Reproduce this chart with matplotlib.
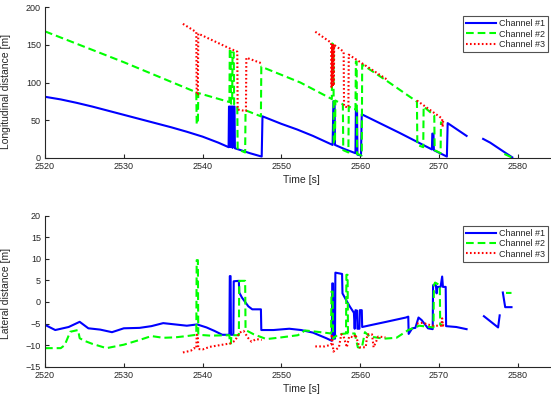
import numpy as np
import matplotlib
matplotlib.use("Agg")
import matplotlib.pyplot as plt

nan = np.nan

# ---- Longitudinal distance [m] per radar channel ----
ch1_lon_t = [2520, 2522, 2524, 2526, 2528, 2530, 2532, 2534, 2536, 2538, 2540, 2542, 2543.3,
             2543.35, 2543.45, 2543.5, 2543.6, 2543.75, 2543.8, 2543.9, 2544.05, 2544.1,
             2545, 2546, 2547, 2547.5, 2547.6, 2550, 2552, 2554, 2556.5,
             2556.6, 2556.75, 2556.8, 2558, 2559.4, 2559.45, 2559.6, 2559.65, 2560.1, 2560.2,
             2565, 2569.1, 2569.15, 2569.3, 2569.35, 2571, 2571.1, 2573.5, nan,
             2575.6, 2576.5, 2577.5, 2578.5, 2579.3]
ch1_lon_y = [81, 77.5, 73, 68, 62.5, 57, 51.5, 46, 40.5, 34.5, 28, 20, 14,
             68, 68, 14, 68, 68, 13, 68, 68, 12.5,
             9.5, 6, 3, 1.5, 55, 45, 37.5, 29, 17,
             75, 75, 17, 11.5, 6, 63, 63, 4, 3, 57.7,
             33, 11, 32, 32, 10, 1.5, 46, 29, nan,
             25, 20, 13, 6, 0.5]

ch2_lon_t = [2520, 2530, 2539.2, 2539.25, 2539.4, 2539.45, 2543.4, 2543.45, 2543.55, 2543.6,
             2543.75, 2543.8, 2543.95, 2544.0, 2544.4, 2544.45, 2545.4, 2545.45, 2547.4,
             2547.45, 2552.4, 2556.4, 2556.45, 2556.6, 2556.65, 2556.8, 2556.85, 2557.8,
             2557.85, 2558.5, 2558.55, 2559.4, 2559.45, 2559.55, 2559.6, 2560.2, 2560.25,
             2563.4, 2567.2, 2567.25, 2568.0, 2568.05, 2569.4, 2569.45, 2570.2, 2570.25,
             2570.4, nan, 2578.3, 2579.3]
ch2_lon_y = [168, 127, 87, 45, 45, 86, 74, 145, 145, 72,
             72, 140, 140, 71, 70, 11, 7, 63, 55,
             121, 100, 78, 152, 150, 20, 19, 76, 71,
             10, 7, 68, 64, 128, 128, 5, 3, 124,
             102, 74.5, 17, 14, 68, 56, 10, 6, 47,
             46, nan, 5, 0]

ch3_lon_t = [2537.5, 2539.2, 2539.25, 2539.4, 2539.45, 2543.5, 2544.4, 2544.45, 2545.5, 2545.55,
             2547.5, nan, 2554.3, 2556.3, 2556.35, 2556.45, 2556.5, 2556.6, 2556.65, 2556.7,
             2557.9, 2557.95, 2558.5, 2558.55, 2563.4, nan, 2567.2, 2570.4, 2570.45, 2570.55]
ch3_lon_y = [178, 167, 84, 84, 165, 145, 141, 64, 62, 133,
             125.5, nan, 167.5, 153, 94, 151, 94, 150, 96, 150,
             141, 68, 67, 137, 104, nan, 76, 52, 41, 51]

# ---- Lateral distance [m] per radar channel ----
ch1_lat_t = [2520, 2521.3, 2523, 2524.4, 2525.5, 2527, 2528.5, 2530, 2532, 2533.5, 2535,
             2536.5, 2538, 2539.3, 2540.5, 2541.5, 2542.5, 2543.4,
             2543.45, 2543.55, 2543.6, 2543.9, 2543.95, 2544.6, 2544.65, 2545.0, 2545.8,
             2546.3, 2547.4, 2547.45, 2549, 2551, 2552.5, 2554, 2555.7, 2556.4,
             2556.45, 2556.55, 2556.6, 2556.8, 2556.85, 2557.7, 2557.75, 2558.2, 2558.7,
             2559.2, 2559.3, 2559.4, 2559.6, 2559.65, 2559.9, 2559.95, 2560.2, 2560.25,
             2561.5, 2563.3, 2565.8, 2566.1, 2566.15, 2566.6, 2567.0, 2567.4, 2567.8,
             2568.6, 2569.2, 2569.25, 2569.6, 2569.7, 2569.8, 2570.2, 2570.4, 2570.5,
             2570.85, 2570.9, 2572.2, 2573.5, nan,
             2575.7, 2577.5, 2577.7, nan, 2578.1, 2578.4, 2579.2]
ch1_lat_y = [-5.3, -6.5, -5.8, -4.6, -6.1, -6.4, -7.0, -6.1, -6.0, -5.6, -4.9,
             -5.2, -5.5, -5.2, -5.9, -6.7, -7.6, -7.6,
             6.0, 6.0, -7.6, -7.6, 4.8, 4.9, 2.2, 1.0, -1.0,
             -1.7, -1.7, -6.5, -6.5, -6.2, -6.5, -7.1, -8.4, -9.0,
             4.3, 4.3, -8.5, -8.5, 6.8, 6.5, 2.0, 0.5, -1.1,
             -2.5, -6.2, -1.9, -2.0, -6.2, -6.2, -1.9, -1.9, -5.8,
             -5.3, -4.6, -3.6, -3.4, -7.4, -6.1, -6.0, -3.6, -4.2,
             -6.1, -6.3, 3.9, 3.9, 2.0, 3.5, 3.5, 5.9, 3.5,
             3.5, -5.6, -5.8, -6.3, nan,
             -3.3, -5.9, -3.1, nan, 2.2, -1.2, -1.2]

ch2_lat_t = [2520, 2522, 2522.5, 2523.2, 2524.2, 2524.4, 2525, 2526, 2527.8, 2530, 2532,
             2533.5, 2535, 2536.5, 2538, 2539.2, 2539.25, 2539.4, 2539.45, 2541, 2543.4,
             2543.45, 2543.6, 2543.65, 2544.6, 2544.65, 2545.4, 2545.45, 2546.5, 2548.1,
             2550, 2552.1, 2553, 2554.5, 2556.3, 2556.35, 2556.5, 2556.55, 2557.2, 2558.2,
             2558.25, 2558.4, 2558.45, 2559.3, 2559.7, 2560.2, 2560.6, 2561.2, 2563,
             2564.6, 2566.1, 2567.5, 2569.3, 2569.35, 2569.5, 2570.1, 2570.15, 2570.4,
             nan, 2578.5, 2579.2]
ch2_lat_y = [-10.7, -10.7, -10.0, -6.9, -6.5, -8.4, -9.0, -9.7, -10.7, -9.9, -8.8,
             -7.9, -8.3, -8.2, -7.9, -7.6, 9.7, 9.7, -7.6, -7.8, -7.7,
             -9.6, -9.6, -7.7, -7.7, 4.9, 4.9, -6.5, -7.5, -8.6,
             -8.2, -7.7, -6.6, -6.9, -7.3, 2.4, 2.4, -8.5, -7.5, -7.3,
             6.3, 6.3, -7.3, -7.3, -10.5, -10.7, -7.0, -8.0, -8.5,
             -8.3, -6.5, -5.5, -5.9, 3.9, 4.5, 3.9, -5.3, -5.3,
             nan, 2.1, 2.1]

ch3_lat_t = [2537.5, 2538.5, 2538.9, 2539.2, 2539.25, 2539.4, 2539.45, 2540, 2540.9, 2542.2,
             2543.5, 2544.1, 2544.7, 2545.2, 2545.8, 2546.2, 2546.8, 2547.5, nan,
             2554.3, 2555.5, 2556.3, 2556.4, 2556.6, 2557.3, 2557.6, 2557.9, 2558.3,
             2558.6, 2559.2, 2559.4, 2559.9, 2560.7, 2560.9, 2561.5, 2561.7, 2562.3,
             2563.2, nan, 2567.2, 2568.0, 2568.5, 2569.3, 2570.3, 2570.4, 2570.5, 2570.6]
ch3_lat_y = [-11.7, -11.3, -10.7, -10.8, -7.6, -7.8, -10.9, -11.0, -10.4, -10.0,
             -9.6, -9.0, -7.1, -6.7, -8.4, -9.2, -8.6, -8.8, nan,
             -10.3, -10.3, -9.9, -7.5, -11.5, -10.5, -7.5, -8.0, -10.5,
             -8.0, -8.2, -7.5, -10.5, -10.5, -7.5, -7.5, -10.5, -8.0,
             -8.2, nan, -5.0, -4.8, -5.2, -5.5, -5.5, -3.8, -5.5, -5.0]

labels = ["Channel #1", "Channel #2", "Channel #3"]
x_ticks = [2520, 2530, 2540, 2550, 2560, 2570, 2580]
lon_ticks = [0, 50, 100, 150, 200]
lat_ticks = [-15, -10, -5, 0, 5, 10, 15, 20]

plt.rcParams["font.family"] = ["Liberation Sans", "DejaVu Sans"]
axis_grey = "#262626"

W, H = 551, 400
fig = plt.figure(figsize=(W / 100, H / 100), dpi=100)

px_per_s = 7.88
x_lo, x_hi = 2520, 2585
left = 45 / W
width = (x_hi - x_lo) * px_per_s / W

ax1 = fig.add_axes([left, 1 - 157.7 / H, width, (157.7 - 7.3) / H])
ax2 = fig.add_axes([left, 1 - 366.7 / H, width, (366.7 - 215.7) / H])

styles = [dict(color=(0, 0, 1), ls="-"),
          dict(color=(0, 1, 0), ls=(0, (3.7, 1.9))),
          dict(color=(1, 0, 0), ls=(0, (0.8, 1.1)))]

series_lon = [(ch1_lon_t, ch1_lon_y), (ch2_lon_t, ch2_lon_y), (ch3_lon_t, ch3_lon_y)]
series_lat = [(ch1_lat_t, ch1_lat_y), (ch2_lat_t, ch2_lat_y), (ch3_lat_t, ch3_lat_y)]


def style_axes(ax, ylim, yticks, ylabel, ylabel_y):
    ax.set_xlim(x_lo, x_hi)
    ax.set_ylim(*ylim)
    ax.set_xticks(x_ticks)
    ax.set_yticks(yticks)
    for s in ("top", "right"):
        ax.spines[s].set_visible(False)
    for s in ("left", "bottom"):
        ax.spines[s].set_color(axis_grey)
        ax.spines[s].set_linewidth(0.8)
    ax.tick_params(direction="in", length=3, width=0.8, colors=axis_grey,
                   labelsize=6.5, pad=3)
    ax.set_xlabel("Time [s]", fontsize=7.5, color=axis_grey, labelpad=3)
    ax.set_ylabel(ylabel, fontsize=7.5, color=axis_grey)
    ax.yaxis.set_label_coords((11 - 45) / (width * W), ylabel_y)
    ax.patch.set_alpha(0)


for ax, series in ((ax1, series_lon), (ax2, series_lat)):
    for (t, y), st, lab in zip(series, styles, labels):
        ax.plot(t, y, lw=1.5, label=lab, **st)

style_axes(ax1, (0, 200), lon_ticks, "Longitudinal distance [m]", 0.44)
style_axes(ax2, (-15, 20), lat_ticks, "Lateral distance [m]", 0.486)


def add_legend(ax, top_px):
    leg = ax.legend(loc="upper right", bbox_to_anchor=(548 / W, 1 - top_px / H),
                    bbox_transform=fig.transFigure, fontsize=6.5, frameon=True,
                    fancybox=False, handlelength=3.3, handletextpad=0.3,
                    labelspacing=0.15, borderpad=0.35, borderaxespad=0)
    frame = leg.get_frame()
    frame.set_edgecolor(axis_grey)
    frame.set_linewidth(0.8)
    for txt in leg.get_texts():
        txt.set_color(axis_grey)


add_legend(ax1, 16)
add_legend(ax2, 225.7)

fig.savefig("out.png", dpi=100)
